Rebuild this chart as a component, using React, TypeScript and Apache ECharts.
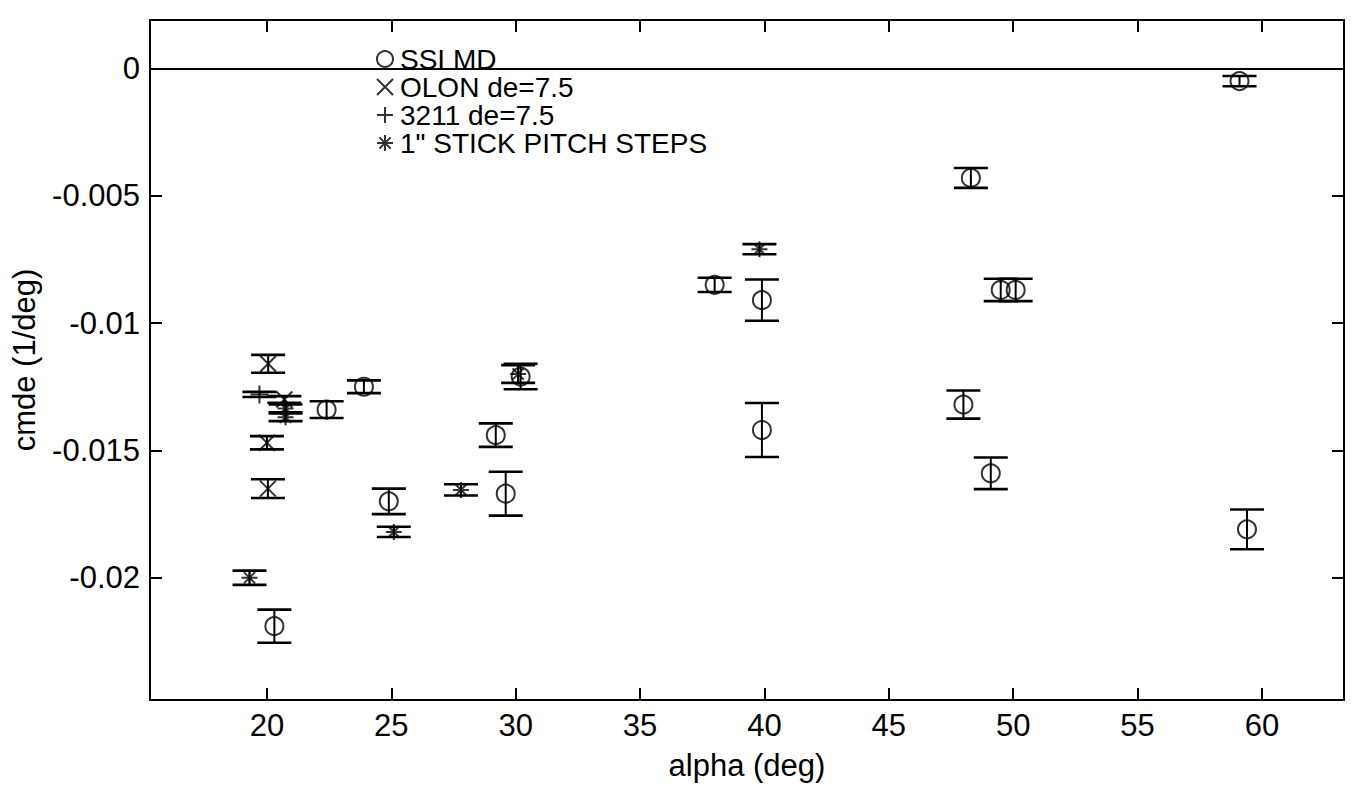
import React, { useEffect, useRef } from "react";
import * as echarts from "echarts";

// [alpha (deg), cmde (1/deg), error half-height]
const ssiMd: number[][] = [
  [22.4, -0.0134, 0.00033],
  [23.9, -0.0125, 0.00025],
  [29.2, -0.0144, 0.00046],
  [24.9, -0.0170, 0.0005],
  [29.6, -0.0167, 0.00086],
  [20.3, -0.0219, 0.00065],
  [30.2, -0.0121, 0.0005],
  [38.0, -0.0085, 0.00028],
  [39.9, -0.0091, 0.00081],
  [39.9, -0.0142, 0.00106],
  [48.3, -0.0043, 0.00039],
  [49.5, -0.0087, 0.00044],
  [50.1, -0.0087, 0.00044],
  [48.0, -0.0132, 0.00055],
  [49.1, -0.0159, 0.00062],
  [59.4, -0.0181, 0.00078],
  [59.1, -0.0005, 0.0002],
];

const olon: number[][] = [
  [20.05, -0.0116, 0.00035],
  [20.7, -0.0130, 0.00013],
  [20.0, -0.0147, 0.00026],
  [20.04, -0.0165, 0.00037],
];

const plus3211: number[][] = [[19.7, -0.0128, 0.0001]];

const stickSteps: number[][] = [
  [20.75, -0.01335, 0.00015],
  [20.75, -0.0137, 0.00015],
  [19.3, -0.0200, 0.00028],
  [25.1, -0.0182, 0.0002],
  [27.8, -0.01655, 0.00022],
  [30.1, -0.0120, 0.00035],
  [39.8, -0.0071, 0.0002],
];

const seriesNames = ["SSI MD", "OLON de=7.5", "3211 de=7.5", '1" STICK PITCH STEPS'];
const xRange = [15.3, 63.3];
const yRange = [-0.0248, 0.0019];
const xTitle = "alpha (deg)";
const yTitle = "cmde (1/deg)";

const FONT = "'Liberation Sans', Arial, Helvetica, sans-serif";
const X_PATH = "path://M0,0L10,10M10,0L0,10";
const PLUS_PATH = "path://M5,0L5,10M0,5L10,5";
const STAR_PATH = "path://M5,0L5,10M0,5L10,5M1.5,1.5L8.5,8.5M8.5,1.5L1.5,8.5";

const markerStyle = { color: "transparent", borderColor: "#000", borderWidth: 2 };

function errorBars(name: string, data: number[][]) {
  return {
    name,
    type: "custom",
    data,
    encode: { x: 0, y: 1 },
    silent: true,
    z: 2,
    renderItem: (params: any, api: any) => {
      const x = api.value(0);
      const y = api.value(1);
      const e = api.value(2);
      const top = api.coord([x, y + e]);
      const bot = api.coord([x, y - e]);
      const hw = 17;
      const cap = { stroke: "#000", lineWidth: 2.6 };
      return {
        type: "group",
        children: [
          { type: "line", shape: { x1: top[0], y1: top[1], x2: bot[0], y2: bot[1] }, style: { stroke: "#000", lineWidth: 2 } },
          { type: "line", shape: { x1: top[0] - hw, y1: top[1], x2: top[0] + hw, y2: top[1] }, style: cap },
          { type: "line", shape: { x1: bot[0] - hw, y1: bot[1], x2: bot[0] + hw, y2: bot[1] }, style: cap },
        ],
      };
    },
  };
}

function markers(name: string, data: number[][], symbol: string, size: number) {
  return {
    name,
    type: "scatter",
    data: data.map((d) => [d[0], d[1]]),
    symbol,
    symbolSize: size,
    itemStyle: markerStyle,
    z: 3,
  };
}

export default function App() {
  const ref = useRef<HTMLDivElement>(null);
  useEffect(() => {
    if (!ref.current) return;
    const chart = echarts.init(ref.current, undefined, { renderer: "svg" });
    const axisLine = { show: true, onZero: false, lineStyle: { color: "#000", width: 2 } };
    const axisTick = { show: true, inside: true, length: 12, lineStyle: { color: "#000", width: 2 } };
    const fmtY = (v: number) => {
      const r = parseFloat(v.toFixed(4));
      return r === 0 ? "0" : String(r);
    };
    const xCommon = {
      type: "value",
      min: xRange[0],
      max: xRange[1],
      splitNumber: 10,
      minInterval: 5,
      maxInterval: 5,
      axisLine,
      axisTick,
      splitLine: { show: false },
    };
    const yCommon = {
      type: "value",
      min: yRange[0],
      max: yRange[1],
      splitNumber: 6,
      minInterval: 0.005,
      maxInterval: 0.005,
      axisLine,
      axisTick,
      splitLine: { show: false },
    };
    const labelFont = { color: "#000", fontSize: 31, fontFamily: FONT };
    chart.setOption({
      animation: false,
      backgroundColor: "#fff",
      textStyle: { fontFamily: FONT },
      grid: { left: 150, right: 10, top: 20, bottom: 86 },
      legend: {
        orient: "vertical",
        left: 371,
        top: 40,
        itemWidth: 16,
        itemHeight: 16,
        itemGap: 0,
        textStyle: { fontSize: 28, color: "#000", fontFamily: FONT, padding: [0, 0, 0, 2] },
        data: [
          { name: seriesNames[0], icon: "circle", itemStyle: markerStyle },
          { name: seriesNames[1], icon: X_PATH, itemStyle: markerStyle },
          { name: seriesNames[2], icon: PLUS_PATH, itemStyle: markerStyle },
          { name: seriesNames[3], icon: STAR_PATH, itemStyle: markerStyle },
        ],
        selectedMode: false,
      },
      xAxis: [
        {
          ...xCommon,
          position: "bottom",
          axisLabel: { show: true, showMinLabel: false, showMaxLabel: false, margin: 10, ...labelFont },
          name: xTitle,
          nameLocation: "middle",
          nameGap: 50,
          nameTextStyle: labelFont,
        },
        { ...xCommon, position: "top", axisLabel: { show: false } },
      ],
      yAxis: [
        {
          ...yCommon,
          position: "left",
          axisLabel: { show: true, showMinLabel: false, showMaxLabel: false, margin: 10, formatter: fmtY, ...labelFont },
          name: yTitle,
          nameLocation: "middle",
          nameGap: 110,
          nameTextStyle: labelFont,
        },
        { ...yCommon, position: "right", axisLabel: { show: false } },
      ],
      series: [
        {
          ...errorBars("ssi-bars", ssiMd),
          markLine: {
            silent: true,
            symbol: "none",
            label: { show: false },
            lineStyle: { color: "#000", width: 2, type: "solid" },
            data: [{ yAxis: 0 }],
          },
        },
        errorBars("olon-bars", olon),
        errorBars("3211-bars", plus3211),
        errorBars("stick-bars", stickSteps),
        markers(seriesNames[0], ssiMd, "circle", 18),
        markers(seriesNames[1], olon, X_PATH, 16),
        markers(seriesNames[2], plus3211, PLUS_PATH, 18),
        markers(seriesNames[3], stickSteps, STAR_PATH, 16),
      ],
    });
    return () => chart.dispose();
  }, []);
  return (
    <div
      ref={ref}
      style={{ position: "fixed", left: 0, top: 0, width: 1354, height: 786, background: "#fff" }}
    />
  );
}
